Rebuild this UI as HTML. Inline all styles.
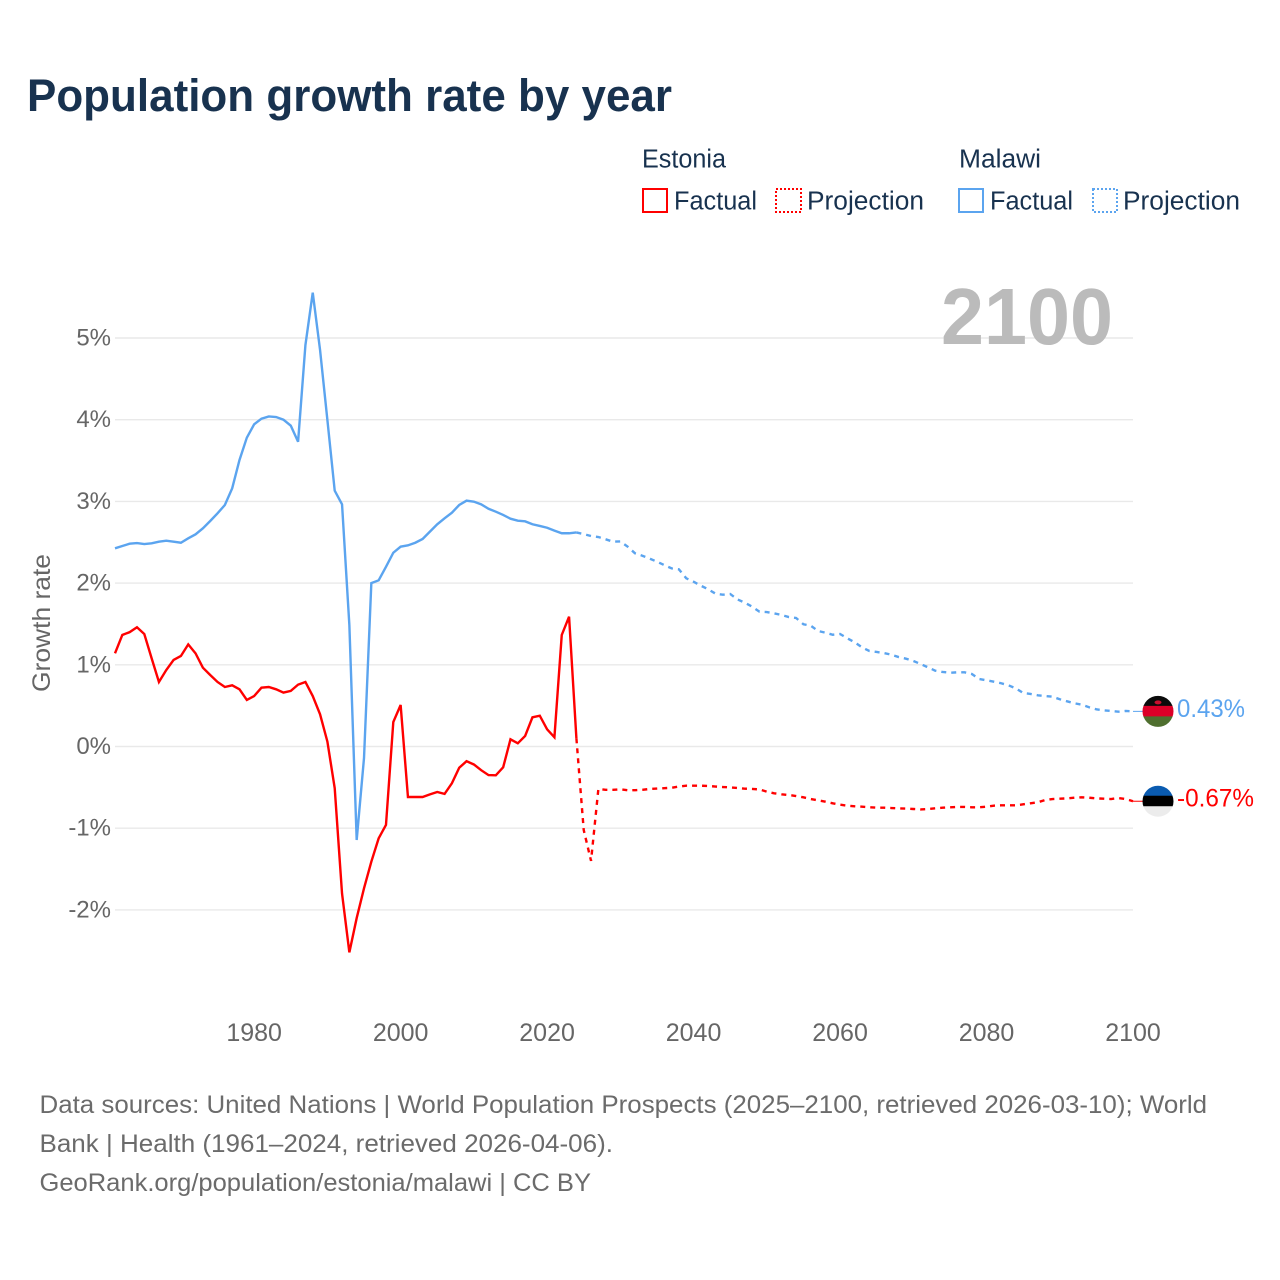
<!DOCTYPE html>
<html lang="en">
<head>
<meta charset="utf-8">
<title>Population growth rate by year</title>
<style>
html,body{margin:0;padding:0;background:#fff;}
svg{display:block;font-family:"Liberation Sans",sans-serif;}
</style>
</head>
<body>
<svg id="chart" xmlns="http://www.w3.org/2000/svg" width="1280" height="1280" viewBox="0 0 1280 1280">
  <defs>
    <clipPath id="flag-clip-malawi"><circle id="clip-malawi" cx="1158" cy="710" r="15.5"></circle></clipPath>
    <clipPath id="flag-clip-estonia"><circle id="clip-estonia" cx="1158" cy="800" r="15.5"></circle></clipPath>
  </defs>
  <rect width="1280" height="1280" fill="#ffffff"></rect>
  <text x="27" y="111" font-size="45" font-weight="700" fill="#18324f" textLength="645" lengthAdjust="spacingAndGlyphs">Population growth rate by year</text>

  <g font-size="25.5" fill="#18324f">
    <text x="642" y="167.5" textLength="84" lengthAdjust="spacingAndGlyphs">Estonia</text>
    <text x="959" y="167.5" textLength="82" lengthAdjust="spacingAndGlyphs">Malawi</text>
    <g>
      <rect x="643" y="189" width="24" height="23" fill="none" stroke="#ff0000" stroke-width="2"></rect>
      <text x="674" y="209.5" textLength="83" lengthAdjust="spacingAndGlyphs">Factual</text>
    </g>
    <g>
      <rect x="776" y="189" width="25" height="23" fill="none" stroke="#ff0000" stroke-width="2" stroke-dasharray="2 2"></rect>
      <text x="807" y="209.5" textLength="117" lengthAdjust="spacingAndGlyphs">Projection</text>
    </g>
    <g>
      <rect x="959" y="189" width="24" height="23" fill="none" stroke="#5ba4ef" stroke-width="2"></rect>
      <text x="990" y="209.5" textLength="83" lengthAdjust="spacingAndGlyphs">Factual</text>
    </g>
    <g>
      <rect x="1093" y="189" width="24" height="23" fill="none" stroke="#5ba4ef" stroke-width="2" stroke-dasharray="2 2"></rect>
      <text x="1123" y="209.5" textLength="117" lengthAdjust="spacingAndGlyphs">Projection</text>
    </g>
  </g>

  <g id="grid"></g>
  <g id="y-ticks" font-size="24" fill="#666666" text-anchor="end"></g>
  <g id="x-ticks" font-size="25" fill="#666666" text-anchor="middle"></g>
  <text transform="translate(50,692) rotate(-90)" font-size="25" fill="#666666" textLength="138" lengthAdjust="spacingAndGlyphs">Growth rate</text>
  <text x="941" y="344" font-size="80" font-weight="700" fill="#bbbbbb" textLength="172" lengthAdjust="spacingAndGlyphs">2100</text>

  <g id="series"></g>

  <g id="flag-malawi" clip-path="url(#flag-clip-malawi)"></g>
  <g id="flag-estonia" clip-path="url(#flag-clip-estonia)"></g>
  <g id="end-labels" font-size="25"></g>

  <g font-size="25" fill="#6b6b6b">
    <text x="39.5" y="1113" textLength="1167.5" lengthAdjust="spacingAndGlyphs">Data sources: United Nations | World Population Prospects (2025–2100, retrieved 2026-03-10); World</text>
    <text x="39.5" y="1152" textLength="573.5" lengthAdjust="spacingAndGlyphs">Bank | Health (1961–2024, retrieved 2026-04-06).</text>
    <text x="39.5" y="1191" textLength="551.5" lengthAdjust="spacingAndGlyphs">GeoRank.org/population/estonia/malawi | CC BY</text>
  </g>
</svg>
<script>
const firstYear = 1961;
const lastFactualYear = 2024;
const yTickValues = [5, 4, 3, 2, 1, 0, -1, -2];
const xTickValues = [1980, 2000, 2020, 2040, 2060, 2080, 2100];

const estoniaFactual = [1.14,1.365,1.40,1.46,1.377,1.08,0.79,0.936,1.06,1.108,1.25,1.14,0.965,0.875,0.79,0.728,0.749,0.70,0.57,0.618,0.72,0.728,0.70,0.66,0.68,0.757,0.79,0.618,0.394,0.06,-0.51,-1.80,-2.52,-2.10,-1.736,-1.41,-1.124,-0.96,0.30,0.508,-0.618,-0.618,-0.618,-0.586,-0.557,-0.58,-0.45,-0.26,-0.18,-0.22,-0.29,-0.35,-0.353,-0.255,0.088,0.039,0.129,0.357,0.377,0.21,0.113,1.365,1.589,0.10];
const estoniaProjection = [-1.022,-1.40,-0.52,-0.53,-0.53,-0.525,-0.535,-0.535,-0.53,-0.52,-0.515,-0.51,-0.505,-0.49,-0.48,-0.48,-0.48,-0.483,-0.49,-0.496,-0.50,-0.508,-0.516,-0.52,-0.525,-0.553,-0.573,-0.585,-0.594,-0.606,-0.622,-0.643,-0.659,-0.675,-0.695,-0.712,-0.724,-0.732,-0.737,-0.744,-0.749,-0.749,-0.753,-0.757,-0.76,-0.765,-0.77,-0.765,-0.757,-0.749,-0.744,-0.74,-0.74,-0.744,-0.744,-0.737,-0.724,-0.72,-0.72,-0.72,-0.708,-0.695,-0.683,-0.655,-0.643,-0.639,-0.635,-0.627,-0.622,-0.627,-0.635,-0.639,-0.643,-0.631,-0.643,-0.67];
const malawiFactual = [2.426,2.454,2.482,2.49,2.478,2.487,2.507,2.519,2.507,2.494,2.548,2.597,2.67,2.76,2.854,2.956,3.16,3.507,3.78,3.944,4.012,4.04,4.033,4.0,3.927,3.73,4.914,5.555,4.853,3.996,3.131,2.964,1.487,-1.144,-0.141,2.0,2.034,2.2,2.372,2.446,2.462,2.494,2.54,2.63,2.72,2.793,2.862,2.956,3.009,2.997,2.964,2.91,2.874,2.834,2.788,2.764,2.756,2.72,2.70,2.678,2.642,2.61,2.61,2.62];
const malawiProjection = [2.60,2.576,2.564,2.536,2.507,2.51,2.446,2.365,2.335,2.30,2.262,2.22,2.18,2.168,2.059,2.017,1.968,1.924,1.87,1.858,1.867,1.80,1.76,1.711,1.65,1.646,1.63,1.61,1.585,1.573,1.496,1.479,1.414,1.393,1.368,1.377,1.324,1.275,1.214,1.169,1.157,1.144,1.124,1.095,1.075,1.047,1.01,0.969,0.928,0.912,0.903,0.908,0.908,0.887,0.826,0.81,0.793,0.774,0.749,0.712,0.655,0.643,0.627,0.618,0.61,0.578,0.553,0.529,0.512,0.48,0.455,0.443,0.435,0.426,0.435,0.43];
const endLabelMalawi = "0.43%";
const endLabelEstonia = "-0.67%";

const NS = "http://www.w3.org/2000/svg";
const RED = "#ff0000";
const BLUE = "#5ba4ef";
const LINE_WIDTH = "2.4";
const DASH = "5 5";
const plotLeft = 115;
const plotRight = 1133;
const yearSpan = 139;
function xScale(year) { return plotLeft + (year - firstYear) * (plotRight - plotLeft) / yearSpan; }
function yScale(value) { return 746.5 - value * 81.7; }
function make(tag) { return document.createElementNS(NS, tag); }
function pointsFrom(startYear, values) {
  return values.map(function (v, i) { return xScale(startYear + i).toFixed(2) + "," + yScale(v).toFixed(2); }).join(" ");
}

const gridGroup = document.getElementById("grid");
const yTickGroup = document.getElementById("y-ticks");
yTickValues.forEach(function (v) {
  const gridLine = make("line");
  
  
  gridLine.setAttribute("x1", 115);
  gridLine.setAttribute("x2", plotRight);
  gridLine.setAttribute("y1", yScale(v));
  gridLine.setAttribute("y2", yScale(v));
  gridLine.setAttribute("stroke", "#e9e9e9");
  gridLine.setAttribute("stroke-width", "1.4");
  gridGroup.appendChild(gridLine);

  const tick = make("text");
  
  
  tick.setAttribute("x", 111);
  tick.setAttribute("y", yScale(v) + 7.5);
  tick.textContent = v + "%";
  yTickGroup.appendChild(tick);
});

const xTickGroup = document.getElementById("x-ticks");
xTickValues.forEach(function (year) {
  const tick = make("text");
  
  
  tick.setAttribute("x", xScale(year));
  tick.setAttribute("y", 1041);
  tick.textContent = year;
  xTickGroup.appendChild(tick);
});

const seriesGroup = document.getElementById("series");

const malawiFactualLine = make("polyline");


malawiFactualLine.setAttribute("points", pointsFrom(firstYear, malawiFactual));
malawiFactualLine.setAttribute("fill", "none");
malawiFactualLine.setAttribute("stroke", BLUE);
malawiFactualLine.setAttribute("stroke-width", LINE_WIDTH);
malawiFactualLine.setAttribute("stroke-linejoin", "miter");
seriesGroup.appendChild(malawiFactualLine);

const malawiProjectionLine = make("polyline");


malawiProjectionLine.setAttribute("points", pointsFrom(lastFactualYear, [malawiFactual[malawiFactual.length - 1]].concat(malawiProjection)));
malawiProjectionLine.setAttribute("fill", "none");
malawiProjectionLine.setAttribute("stroke", BLUE);
malawiProjectionLine.setAttribute("stroke-width", LINE_WIDTH);
malawiProjectionLine.setAttribute("stroke-dasharray", DASH);
seriesGroup.appendChild(malawiProjectionLine);

const estoniaFactualLine = make("polyline");


estoniaFactualLine.setAttribute("points", pointsFrom(firstYear, estoniaFactual));
estoniaFactualLine.setAttribute("fill", "none");
estoniaFactualLine.setAttribute("stroke", RED);
estoniaFactualLine.setAttribute("stroke-width", LINE_WIDTH);
seriesGroup.appendChild(estoniaFactualLine);

const estoniaProjectionLine = make("polyline");


estoniaProjectionLine.setAttribute("points", pointsFrom(lastFactualYear, [estoniaFactual[estoniaFactual.length - 1]].concat(estoniaProjection)));
estoniaProjectionLine.setAttribute("fill", "none");
estoniaProjectionLine.setAttribute("stroke", RED);
estoniaProjectionLine.setAttribute("stroke-width", LINE_WIDTH);
estoniaProjectionLine.setAttribute("stroke-dasharray", DASH);
seriesGroup.appendChild(estoniaProjectionLine);

const malawiEndY = yScale(malawiProjection[malawiProjection.length - 1]);
const estoniaEndY = yScale(estoniaProjection[estoniaProjection.length - 1]);

const malawiConnector = make("line");


malawiConnector.setAttribute("x1", plotRight);
malawiConnector.setAttribute("x2", 1143);
malawiConnector.setAttribute("y1", malawiEndY);
malawiConnector.setAttribute("y2", malawiEndY);
malawiConnector.setAttribute("stroke", BLUE);
malawiConnector.setAttribute("stroke-width", "1");
seriesGroup.appendChild(malawiConnector);

const estoniaConnector = make("line");


estoniaConnector.setAttribute("x1", plotRight);
estoniaConnector.setAttribute("x2", 1143);
estoniaConnector.setAttribute("y1", estoniaEndY);
estoniaConnector.setAttribute("y2", estoniaEndY);
estoniaConnector.setAttribute("stroke", RED);
estoniaConnector.setAttribute("stroke-width", "1");
seriesGroup.appendChild(estoniaConnector);

document.getElementById("clip-malawi").setAttribute("cy", malawiEndY);
document.getElementById("clip-estonia").setAttribute("cy", estoniaEndY);

const malawiFlagGroup = document.getElementById("flag-malawi");
["#0b0b0b", "#dc0028", "#4f6f2f"].forEach(function (colour, i) {
  const band = make("rect");
  
  
  band.setAttribute("x", 1142);
  band.setAttribute("y", malawiEndY - 16 + i * 10.5);
  band.setAttribute("width", 32);
  band.setAttribute("height", 11);
  band.setAttribute("fill", colour);
  malawiFlagGroup.appendChild(band);
});
const malawiSun = make("ellipse");


malawiSun.setAttribute("cx", 1158);
malawiSun.setAttribute("cy", malawiEndY - 9);
malawiSun.setAttribute("rx", 3.5);
malawiSun.setAttribute("ry", 2);
malawiSun.setAttribute("fill", "#c8102e");
malawiFlagGroup.appendChild(malawiSun);

const estoniaFlagGroup = document.getElementById("flag-estonia");
["#0a5bb0", "#000000", "#ececec"].forEach(function (colour, i) {
  const band = make("rect");
  
  
  band.setAttribute("x", 1142);
  band.setAttribute("y", estoniaEndY - 16 + i * 10.5);
  band.setAttribute("width", 32);
  band.setAttribute("height", 11);
  band.setAttribute("fill", colour);
  estoniaFlagGroup.appendChild(band);
});

const endGroup = document.getElementById("end-labels");
const malawiEndText = make("text");


malawiEndText.setAttribute("x", 1177);
malawiEndText.setAttribute("y", malawiEndY + 5.5);
malawiEndText.setAttribute("fill", BLUE);
malawiEndText.setAttribute("textLength", "68");
malawiEndText.setAttribute("lengthAdjust", "spacingAndGlyphs");
malawiEndText.textContent = endLabelMalawi;
endGroup.appendChild(malawiEndText);

const estoniaEndText = make("text");


estoniaEndText.setAttribute("x", 1177);
estoniaEndText.setAttribute("y", estoniaEndY + 5.5);
estoniaEndText.setAttribute("fill", RED);
estoniaEndText.setAttribute("textLength", "77");
estoniaEndText.setAttribute("lengthAdjust", "spacingAndGlyphs");
estoniaEndText.textContent = endLabelEstonia;
endGroup.appendChild(estoniaEndText);
</script>
</body>
</html>
